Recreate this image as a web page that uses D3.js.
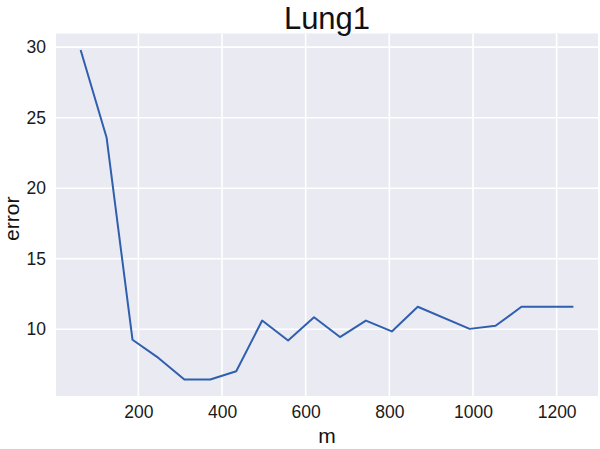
<!DOCTYPE html>
<html>
<head>
<meta charset="utf-8">
<script src="https://cdn.jsdelivr.net/npm/d3@7"></script>
<style>
  html, body { margin: 0; padding: 0; background: #fff; }
  svg { display: block; font-family: Arial, "Liberation Sans", Helvetica, sans-serif; }
</style>
</head>
<body>
<svg id="chart" width="600" height="449"></svg>
<script>
// Data
const mValues = [62, 124, 186, 248, 310, 372, 434, 496, 558, 620, 682, 744, 806, 868, 992, 1054, 1116, 1240];
const errorValues = [29.8, 23.6, 9.26, 7.97, 6.44, 6.44, 7.03, 10.62, 9.21, 10.86, 9.45, 10.62, 9.85, 11.6, 10.03, 10.25, 11.6, 11.6];
const xTicks = [200, 400, 600, 800, 1000, 1200];
const yTicks = [10, 15, 20, 25, 30];
const titleText = "Lung1";
const xLabel = "m";
const yLabel = "error";

const svg = d3.select("#chart");
const pLeft = 56, pRight = 598, pTop = 33.5, pBottom = 396;

function pad(ext) { const r = ext[1] - ext[0]; return [ext[0] - 0.05 * r, ext[1] + 0.05 * r]; }

const x = d3.scaleLinear().domain(pad(d3.extent(mValues))).range([pLeft, pRight]);
const y = d3.scaleLinear().domain(pad(d3.extent(errorValues))).range([pBottom, pTop]);

// background
svg.append("rect").attr("x", pLeft).attr("y", pTop)
  .attr("width", pRight - pLeft).attr("height", pBottom - pTop).attr("fill", "#EAEAF2");

// grid
svg.append("g").selectAll("line").data(xTicks).join("line")
  .attr("x1", d => x(d)).attr("x2", d => x(d)).attr("y1", pTop).attr("y2", pBottom)
  .attr("stroke", "#fff").attr("stroke-width", 1.6);
svg.append("g").selectAll("line").data(yTicks).join("line")
  .attr("x1", pLeft).attr("x2", pRight).attr("y1", d => y(d)).attr("y2", d => y(d))
  .attr("stroke", "#fff").attr("stroke-width", 1.6);

// axes (labels only, no tick marks or domain)
const xAxis = svg.append("g").attr("transform", `translate(0,${pBottom})`)
  .call(d3.axisBottom(x).tickValues(xTicks).tickSize(0).tickPadding(10).tickFormat(d3.format("d")));
xAxis.select(".domain").remove();
xAxis.selectAll("text").attr("font-size", 17.5).attr("fill", "#1a1a1a").attr("font-family", "Arial, 'Liberation Sans', sans-serif");

const yAxis = svg.append("g").attr("transform", `translate(${pLeft},0)`)
  .call(d3.axisLeft(y).tickValues(yTicks).tickSize(0).tickPadding(10).tickFormat(d3.format("d")));
yAxis.select(".domain").remove();
yAxis.selectAll("text").attr("font-size", 17.5).attr("fill", "#1a1a1a").attr("font-family", "Arial, 'Liberation Sans', sans-serif");

// line
const pts = mValues.map((m, i) => [m, errorValues[i]]);
svg.append("path").datum(pts)
  .attr("fill", "none").attr("stroke", "#2f5fae").attr("stroke-width", 2)
  .attr("stroke-linejoin", "round")
  .attr("d", d3.line().x(d => x(d[0])).y(d => y(d[1])));

// title and axis labels
svg.append("text").attr("x", (pLeft + pRight) / 2).attr("y", 29).attr("text-anchor", "middle")
  .attr("font-size", 31).attr("fill", "#111").text(titleText);
svg.append("text").attr("x", (pLeft + pRight) / 2).attr("y", 443).attr("text-anchor", "middle")
  .attr("font-size", 21).attr("fill", "#111").text(xLabel);
svg.append("text").attr("transform", `translate(19,${(pTop + pBottom) / 2 + 4}) rotate(-90)`).attr("text-anchor", "middle")
  .attr("font-size", 21).attr("fill", "#111").text(yLabel);
</script>
</body>
</html>
